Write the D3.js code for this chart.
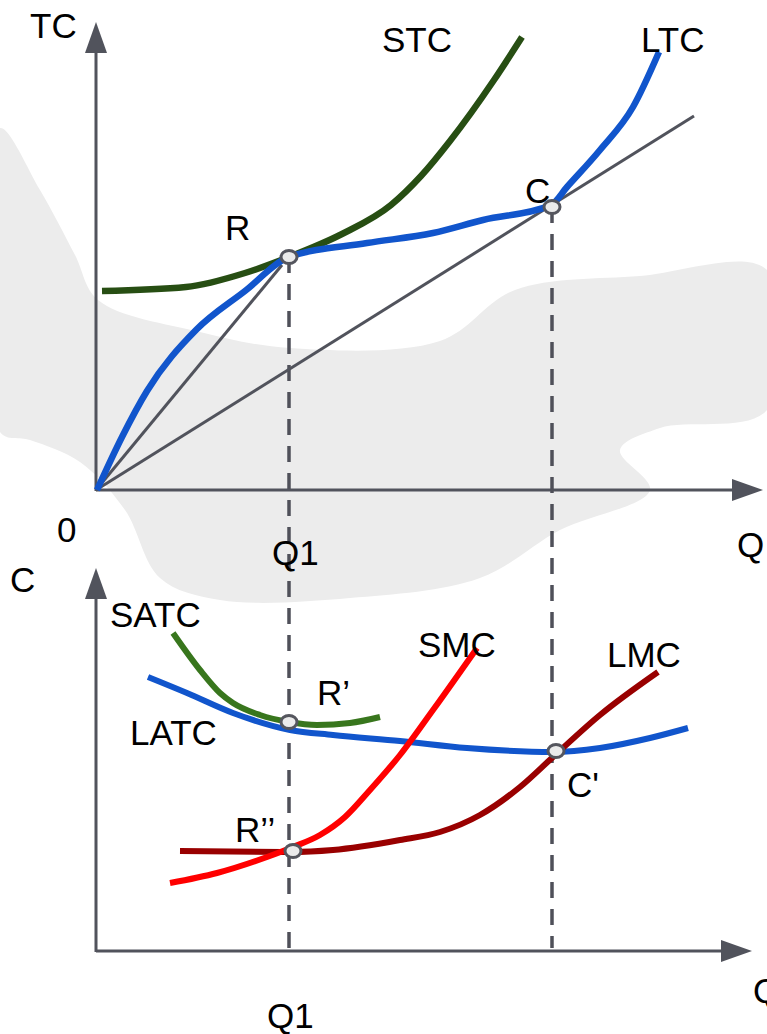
<!DOCTYPE html>
<html>
<head>
<meta charset="utf-8">
<script src="https://cdn.jsdelivr.net/npm/d3@7"></script>
<style>
  html, body { margin: 0; padding: 0; background: #ffffff; }
  svg { display: block; }
  text { font-family: "Liberation Sans", Arial, sans-serif; font-size: 35px; fill: #000; }
</style>
</head>
<body>
<svg id="chart" width="767" height="1034"></svg>
<script>
// ---------------- DATA (chart units: Q along x, cost along y) ----------------
// Top panel: total cost curves
const stc = [[0.6,19.9],[9.0,20.3],[14.9,21.7],[19.3,23.3],[24.6,25.6],[29.5,28.5],[32.5,31.4],[35.4,34.9],[39.8,41.0],[42.6,45.3]];
const ltc = [[0.1,0],[2.6,5.3],[5.1,9.9],[10.0,16.0],[14.9,19.9],[19.3,23.3],[27.1,24.7],[33.7,25.7],[38.7,27.0],[45.5,28.5],[47.1,30.3],[50.4,34.0],[53.7,38.3],[56.3,43.8]];
const rayR = [[0,0],[18.6,22.5]];
const rayC = [[0,0],[59.8,37.4]];
const topPoints = [["R",19.3,23.3],["C",45.6,28.3]];

// Bottom panel: average and marginal cost curves
const satc = [[7.7,31.8],[10.4,28.1],[12.4,25.8],[13.7,24.8],[16.4,23.6],[19.3,22.9],[22.1,22.6],[25.4,22.8],[28.4,23.4]];
const latc = [[5.2,27.4],[9.1,25.8],[13.7,23.8],[19.4,22.1],[23.7,21.6],[30.4,21.0],[37.1,20.3],[45.7,19.9],[50.4,20.3],[55.4,21.3],[59.2,22.3]];
const smc  = [[7.4,6.8],[12.1,7.8],[17.1,9.4],[19.7,10.4],[22.4,11.6],[24.9,13.4],[27.4,16.1],[30.4,19.6],[33.7,24.1],[38.1,30.3]];
const lmc  = [[8.4,10.0],[19.4,9.9],[23.7,10.1],[30.4,11.1],[34.4,11.9],[38.4,13.6],[42.4,16.4],[45.7,19.4],[50.4,23.6],[56.2,27.9]];
const bottomPoints = [["R’",19.3,22.9],["R’’",19.7,10.0],["C'",46.0,20.0]];

// Quantities marked by dashed guides: [x, top-panel y where guide starts]
const guides = [[19.3,23.3],[45.6,28.3]];

// Labels: [text, x, y] in chart units
const topLabels = [["TC",-6.6,45.2],["STC",28.6,43.8],["LTC",54.5,43.8],["R",12.9,25.0],["C",42.9,28.7],["0",-3.9,-5.2],["Q1",17.6,-7.5],["Q",64.1,-6.7]];
const bottomLabels = [["C",-8.6,35.9],["SATC",1.4,32.4],["LATC",3.4,20.6],["R’",22.1,24.6],["R’’",13.9,10.9],["SMC",32.2,29.4],["LMC",51.1,28.4],["C'",47.1,15.4],["Q1",17.1,-7.7],["Q",65.7,-5.2]];

// Axis extents (chart units)
const topAxisMax = [66.7, 46.8];
const bottomAxisMax = [65.6, 38.3];

// ---------------- SCALES ----------------
const x = d3.scaleLinear().domain([0, 66.7]).range([96, 763]);
const yTop = d3.scaleLinear().domain([0, 47]).range([490, 20]);
const yBot = d3.scaleLinear().domain([0, 38.5]).range([951, 566]);

const svg = d3.select("#chart");
const axisColor = "#51535c";

// ---------------- Background decorative brush ----------------
const splash = [[0,128],[40,190],[75,255],[98,300],[200,332],[290,348],[440,341],[515,290],[640,276],[767,270],[767,410],[660,428],[620,450],[650,490],[560,530],[480,578],[350,598],[220,600],[160,578],[125,510],[80,462],[30,440],[0,432]];
svg.append("path")
  .attr("d", d3.line().curve(d3.curveCatmullRomClosed)(splash))
  .attr("fill", "#ececec");

// ---------------- Axes ----------------
function drawAxes(yScale, max) {
  const x0 = x(0), y0 = yScale(0);
  const xt = x(max[0]), yt = yScale(max[1]);
  const head = 31, half = 11;
  svg.append("line").attr("x1", x0).attr("y1", y0 + 1).attr("x2", x0).attr("y2", yt + head)
    .attr("stroke", axisColor).attr("stroke-width", 3);
  svg.append("path").attr("d", `M${x0 - half},${yt + head} L${x0},${yt} L${x0 + half},${yt + head} Z`).attr("fill", axisColor);
  svg.append("line").attr("x1", x0).attr("y1", y0).attr("x2", xt - head).attr("y2", y0)
    .attr("stroke", axisColor).attr("stroke-width", 3);
  svg.append("path").attr("d", `M${xt - head},${y0 - half} L${xt},${y0} L${xt - head},${y0 + half} Z`).attr("fill", axisColor);
}
drawAxes(yTop, topAxisMax);
drawAxes(yBot, bottomAxisMax);

// ---------------- Dashed guides ----------------
guides.forEach(g => {
  svg.append("line")
    .attr("x1", x(g[0])).attr("y1", yTop(g[1]))
    .attr("x2", x(g[0])).attr("y2", yBot(0) - 3)
    .attr("stroke", "#4f5059").attr("stroke-width", 3.5)
    .attr("stroke-dasharray", "16,11");
});

// ---------------- Curves ----------------
function drawCurve(data, yScale, color, width, curve) {
  svg.append("path")
    .datum(data)
    .attr("d", d3.line().x(d => x(d[0])).y(d => yScale(d[1])).curve(curve || d3.curveMonotoneX))
    .attr("fill", "none").attr("stroke", color).attr("stroke-width", width)
    .attr("stroke-linecap", "butt");
}
drawCurve(rayR, yTop, axisColor, 3, d3.curveLinear);
drawCurve(rayC, yTop, axisColor, 3, d3.curveLinear);
drawCurve(stc, yTop, "#274e13", 6.5);
drawCurve(ltc, yTop, "#1155cc", 6.5);

drawCurve(latc, yBot, "#1155cc", 6);
drawCurve(satc, yBot, "#38761d", 6);
drawCurve(lmc, yBot, "#990000", 6);
drawCurve(smc, yBot, "#ff0000", 6);

// ---------------- Points ----------------
function drawPoints(pts, yScale) {
  svg.selectAll(null).data(pts).enter().append("ellipse")
    .attr("cx", d => x(d[1])).attr("cy", d => yScale(d[2]))
    .attr("rx", 8).attr("ry", 6.5)
    .attr("fill", "#ebebeb").attr("stroke", "#55565e").attr("stroke-width", 3);
}
drawPoints(topPoints, yTop);
drawPoints(bottomPoints, yBot);

// ---------------- Labels ----------------
function drawLabels(labels, yScale) {
  svg.selectAll(null).data(labels).enter().append("text")
    .attr("x", d => x(d[1])).attr("y", d => yScale(d[2]))
    .text(d => d[0]);
}
drawLabels(topLabels, yTop);
drawLabels(bottomLabels, yBot);
</script>
</body>
</html>
